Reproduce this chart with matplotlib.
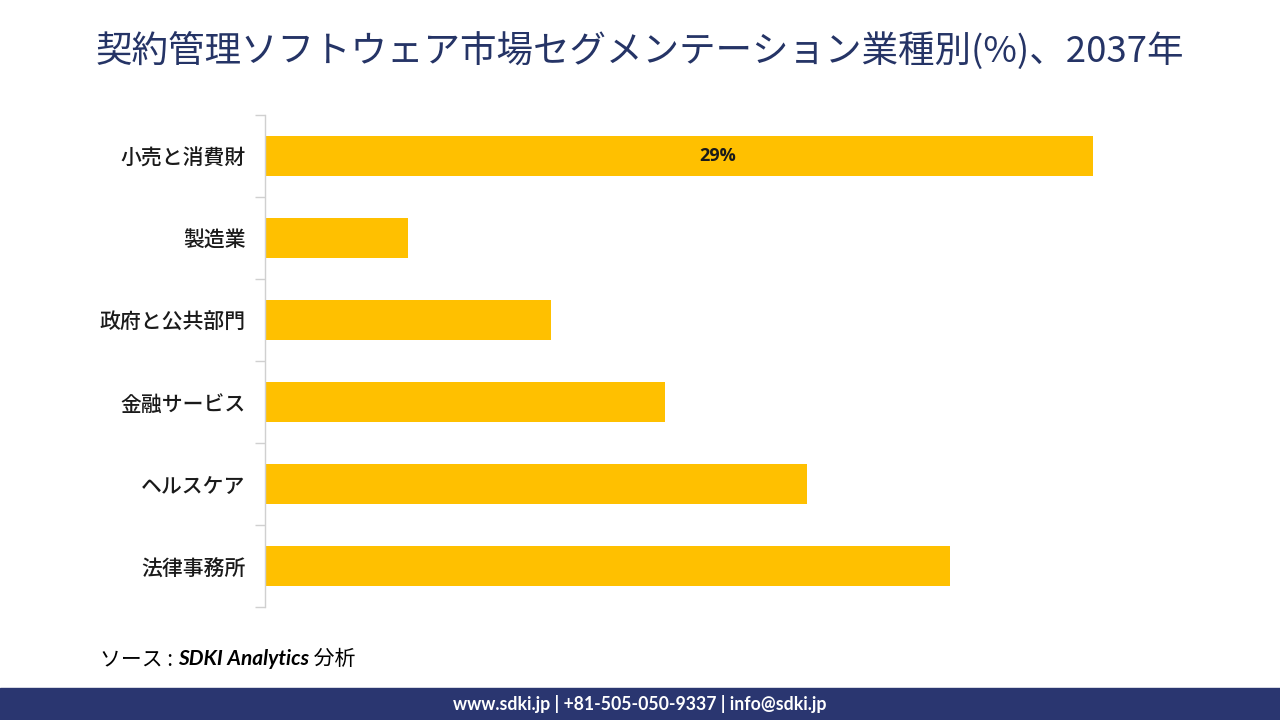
import matplotlib
matplotlib.use("Agg")
import matplotlib.pyplot as plt

plt.rcParams['font.family'] = ['Noto Sans CJK JP', 'DejaVu Sans']

categories = ["小売と消費財", "製造業", "政府と公共部門", "金融サービス", "ヘルスケア", "法律事務所"]
values = [29, 5, 10, 14, 19, 24]
labels = ["29%", "", "", "", "", ""]

title = "契約管理ソフトウェア市場セグメンテーション業種別(%)、2037年"
source_parts = ["ソース : ", "SDKI Analytics", " 分析"]
footer = "www.sdki.jp | +81-505-050-9337 | info@sdki.jp"

W, H = 1280, 720
fig = plt.figure(figsize=(12.8, 7.2), dpi=100)
fig.patch.set_facecolor("white")

xmax = 32
left, right = 265, 265 + xmax * 28.55
top, bottom = 115, 607
ax = fig.add_axes([left / W, 1 - bottom / H, (right - left) / W, (bottom - top) / H])

n = len(categories)
ypos = list(range(n))
ax.barh(ypos, values, height=0.48, color="#FFC000", zorder=2)
ax.set_ylim(n - 0.5, -0.5)
ax.set_xlim(0, xmax)

for y, v, lab in zip(ypos, values, labels):
    if lab:
        ax.text(v * 0.5465, y, lab, ha="center", va="center", fontsize=13,
                fontweight="bold", color="#1a1a1a", family=["Open Sans", "DejaVu Sans"])

ax.set_yticks(ypos)
ax.set_yticklabels(categories, fontsize=15, color="#1a1a1a", fontweight="medium")
ax.tick_params(axis="y", which="major", length=0, pad=14)
ax.set_yticks([i + 0.5 for i in range(-1, n)], minor=True)
ax.tick_params(axis="y", which="minor", length=7, color="#d0d0d0", width=1)
ax.set_xticks([])
for s in ["top", "right", "bottom"]:
    ax.spines[s].set_visible(False)
ax.spines["left"].set_color("#d0d0d0")
ax.spines["left"].set_linewidth(1)

fig.text(0.5, 1 - 51 / H, title, ha="center", va="center", fontsize=26.3,
         color="#253466")

# source line in pieces
renderer = fig.canvas.get_renderer()
ysrc = 1 - 659 / H
styles = [dict(family=["Noto Sans CJK JP"], fontweight="normal", style="normal"),
          dict(family=["Lato", "DejaVu Sans"], fontweight="bold", style="italic"),
          dict(family=["Noto Sans CJK JP"], fontweight="normal", style="normal")]
xpix = 100
for part, st in zip(source_parts, styles):
    t = fig.text(xpix / W, ysrc, part, ha="left", va="center", fontsize=15,
                 color="black", **st)
    bb = t.get_window_extent(renderer=renderer)
    xpix += bb.width

band = plt.Rectangle((0, 0), 1, 32 / H, transform=fig.transFigure,
                     color="#2a3670", zorder=0)
fig.patches.append(band)
fig.text(0.5, 16 / H, footer, ha="center", va="center", fontsize=12.7,
         fontweight="bold", color="white", family=["Lato", "DejaVu Sans"])

fig.savefig("out.png", dpi=100)
